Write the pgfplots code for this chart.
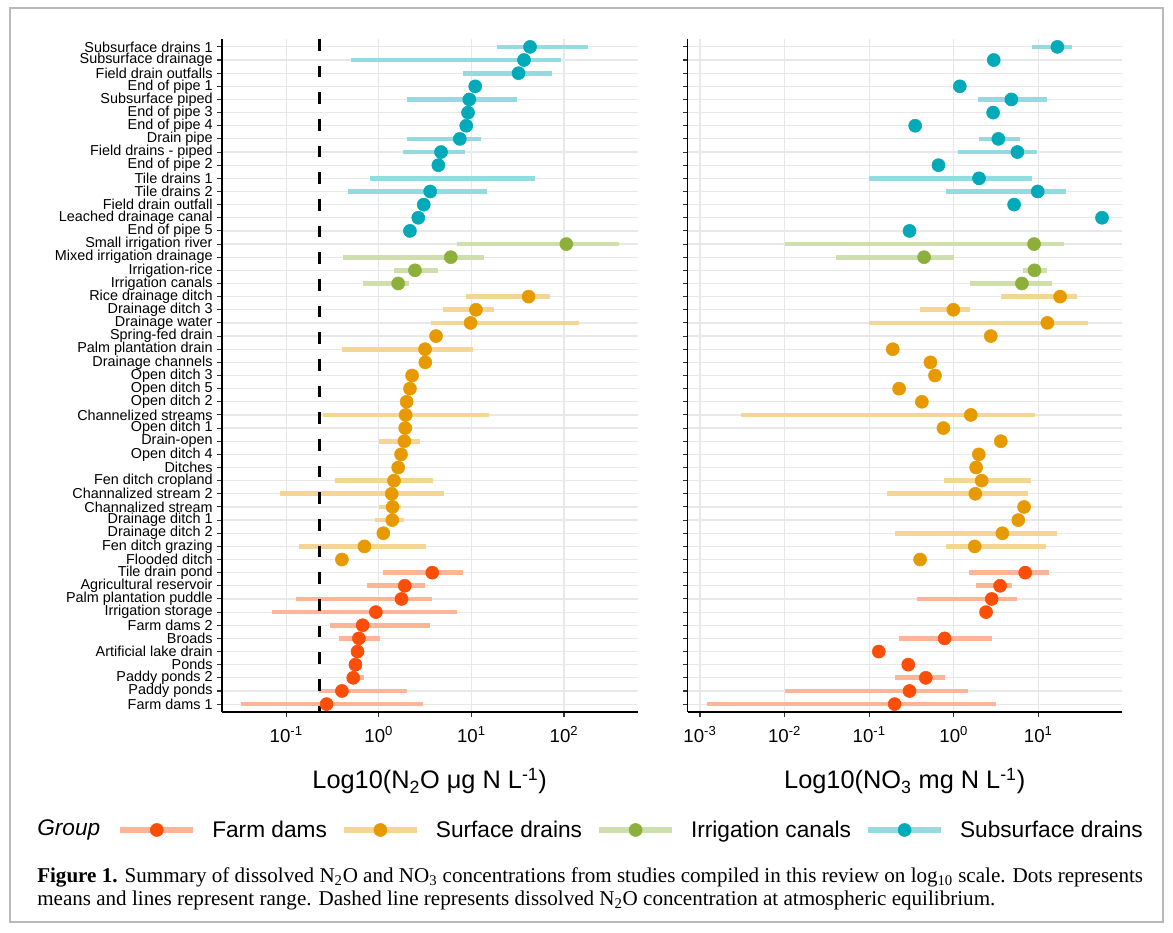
\documentclass[border=0pt]{standalone}
\usepackage{fontspec}
\setmainfont{Liberation Sans}
\newfontfamily\capfont{Liberation Serif}
\usepackage{pgfplots}
\pgfplotsset{compat=1.18}

\definecolor{fd}{HTML}{FC4E07}
\definecolor{sd}{HTML}{E69A00}
\definecolor{ic}{HTML}{8DB03B}
\definecolor{ss}{HTML}{00AAB8}
\colorlet{fdL}{fd!42!white}
\colorlet{sdL}{sd!42!white}
\colorlet{icL}{ic!42!white}
\colorlet{ssL}{ss!42!white}

\pgfplotsset{
  myrng/.style={line width=3.5pt, line cap=butt, forget plot},
  mydots/.style={only marks, mark=*, mark size=4.9pt, forget plot},
}

\begin{document}
\begin{tikzpicture}
\path (0pt,0pt) rectangle (879.75pt,699pt);
\draw[black!27, line width=1.2pt] (7.5pt,7.5pt) rectangle (872.25pt,693pt);

% ---------------- left panel: N2O ----------------
\begin{axis}[at={(166.35pt,165pt)}, anchor=south west,
  scale only axis, width=311.85pt, height=504.75pt,
  xmode=log, xminorticks=false,
  ymin=0.4, ymax=51.6, ytick={1,...,51},
  axis x line*=bottom, axis y line*=left,
  axis line style={black, line width=1.1pt},
  grid=major, major grid style={color=black!9, line width=0.9pt},
  tick align=outside, major tick length=3.4pt,
  tick style={black!80, line width=0.8pt},
  xticklabel style={font=\fontsize{14}{14}\selectfont, yshift=-4pt},
  yticklabel style={font=\fontsize{10.8}{11}\selectfont},
  xmin=0.02018, xmax=623.7,
  xtick={0.1,1,10,100},
  xticklabels={10\textsuperscript{-1},10\textsuperscript{0},10\textsuperscript{1},10\textsuperscript{2}},
  yticklabels={Farm dams 1,Paddy ponds,Paddy ponds 2,Ponds,Artificial lake drain,Broads,Farm dams 2,Irrigation storage,Palm plantation puddle,Agricultural reservoir,Tile drain pond,Flooded ditch,Fen ditch grazing,Drainage ditch 2,Drainage ditch 1,Channalized stream,Channalized stream 2,Fen ditch cropland,Ditches,Open ditch 4,Drain-open,Open ditch 1,Channelized streams,Open ditch 2,Open ditch 5,Open ditch 3,Drainage channels,Palm plantation drain,Spring-fed drain,Drainage water,Drainage ditch 3,Rice drainage ditch,Irrigation canals,Irrigation-rice,Mixed irrigation drainage,Small irrigation river,End of pipe 5,Leached drainage canal,Field drain outfall,Tile drains 2,Tile drains 1,End of pipe 2,Field drains - piped,Drain pipe,End of pipe 4,End of pipe 3,Subsurface piped,End of pipe 1,Field drain outfalls,Subsurface drainage,Subsurface drains 1},
  xlabel={Log10(N\textsubscript{2}O μg N L\textsuperscript{-1})},
  xlabel style={font=\fontsize{19}{20}\selectfont, at={(axis description cs:0.5,-0.1025)}, anchor=center},
  legend columns=4,
  legend style={at={(axis description cs:-0.2520,-0.1753)}, anchor=west,
    draw=none, fill=none, inner sep=0pt,
    font=\fontsize{17}{18}\selectfont,
    nodes={inner sep=0pt},
    /tikz/every odd column/.append style={column sep=12pt},
    /tikz/every even column/.append style={column sep=10.5pt}},
]
% ranges: subsurface drains
\addplot[myrng, ssL] coordinates {(19.1,51) (181,51)};
\addplot[myrng, ssL] coordinates {(0.507,50) (92,50)};
\addplot[myrng, ssL] coordinates {(8.1,49) (74.6,49)};
\addplot[myrng, ssL] coordinates {(2.02,47) (31.3,47)};
\addplot[myrng, ssL] coordinates {(2.02,44) (12.7,44)};
\addplot[myrng, ssL] coordinates {(1.84,43) (8.45,43)};
\addplot[myrng, ssL] coordinates {(0.81,41) (49,41)};
\addplot[myrng, ssL] coordinates {(0.46,40) (14.9,40)};
% irrigation canals
\addplot[myrng, icL] coordinates {(7.08,36) (394,36)};
\addplot[myrng, icL] coordinates {(0.41,35) (13.7,35)};
\addplot[myrng, icL] coordinates {(1.47,34) (4.33,34)};
\addplot[myrng, icL] coordinates {(0.67,33) (2.12,33)};
% surface drains
\addplot[myrng, sdL] coordinates {(8.8,32) (70,32)};
\addplot[myrng, sdL] coordinates {(4.96,31) (17.6,31)};
\addplot[myrng, sdL] coordinates {(3.7,30) (147,30)};
\addplot[myrng, sdL] coordinates {(0.4,28) (10.3,28)};
\addplot[myrng, sdL] coordinates {(0.251,23) (15.4,23)};
\addplot[myrng, sdL] coordinates {(1.0,21) (2.76,21)};
\addplot[myrng, sdL] coordinates {(0.34,18) (3.86,18)};
\addplot[myrng, sdL] coordinates {(0.0855,17) (5.07,17)};
\addplot[myrng, sdL] coordinates {(1.0,16) (1.72,16)};
\addplot[myrng, sdL] coordinates {(0.91,15) (1.89,15)};
\addplot[myrng, sdL] coordinates {(0.136,13) (3.26,13)};
% farm dams
\addplot[myrng, fdL] coordinates {(1.11,11) (8.2,11)};
\addplot[myrng, fdL] coordinates {(0.74,10) (3.13,10)};
\addplot[myrng, fdL] coordinates {(0.127,9) (3.78,9)};
\addplot[myrng, fdL] coordinates {(0.071,8) (7.0,8)};
\addplot[myrng, fdL] coordinates {(0.294,7) (3.59,7)};
\addplot[myrng, fdL] coordinates {(0.37,6) (1.03,6)};
\addplot[myrng, fdL] coordinates {(0.46,3) (0.69,3)};
\addplot[myrng, fdL] coordinates {(0.226,2) (2.02,2)};
\addplot[myrng, fdL] coordinates {(0.0326,1) (3.03,1)};
% means
\addplot[mydots, ss] coordinates {(43,51) (37,50) (32.3,49) (11,48) (9.5,47) (9.2,46) (8.8,45) (7.5,44) (4.7,43) (4.4,42) (3.59,40) (3.06,39) (2.67,38) (2.17,37)};
\addplot[mydots, ic] coordinates {(106,36) (5.99,35) (2.46,34) (1.62,33)};
\addplot[mydots, sd] coordinates {(41.5,32) (11.2,31) (9.8,30) (4.15,29) (3.16,28) (3.18,27) (2.29,26) (2.17,25) (2.0,24) (1.95,23) (1.93,22) (1.89,21) (1.74,20) (1.62,19) (1.46,18) (1.38,17) (1.41,16) (1.40,15) (1.12,14) (0.70,13) (0.40,12)};
\addplot[mydots, fd] coordinates {(3.78,11) (1.91,10) (1.76,9) (0.93,8) (0.67,7) (0.61,6) (0.59,5) (0.56,4) (0.53,3) (0.40,2) (0.273,1)};
% atmospheric equilibrium
\addplot[black, line width=2.4pt, dash pattern=on 8.75pt off 11.25pt, forget plot] coordinates {(0.231,51.6) (0.231,0.4)};
% legend
\addlegendimage{legend image code/.code={\draw[fdL, line width=4.5pt] (0pt,0pt) -- (54.75pt,0pt); \fill[fd] (27.4pt,0pt) circle (4.9pt);}}
\addlegendentry{Farm dams}
\addlegendimage{legend image code/.code={\draw[sdL, line width=4.5pt] (0pt,0pt) -- (54.75pt,0pt); \fill[sd] (27.4pt,0pt) circle (4.9pt);}}
\addlegendentry{Surface drains}
\addlegendimage{legend image code/.code={\draw[icL, line width=4.5pt] (0pt,0pt) -- (54.75pt,0pt); \fill[ic] (27.4pt,0pt) circle (4.9pt);}}
\addlegendentry{Irrigation canals}
\addlegendimage{legend image code/.code={\draw[ssL, line width=4.5pt] (0pt,0pt) -- (54.75pt,0pt); \fill[ss] (27.4pt,0pt) circle (4.9pt);}}
\addlegendentry{Subsurface drains}
\end{axis}

% ---------------- right panel: NO3 ----------------
\begin{axis}[at={(515.775pt,165pt)}, anchor=south west,
  scale only axis, width=325.5pt, height=504.75pt,
  xmode=log, xminorticks=false,
  ymin=0.4, ymax=51.6, ytick={1,...,51},
  axis x line*=bottom, axis y line*=left,
  axis line style={black, line width=1.1pt},
  grid=major, major grid style={color=black!9, line width=0.9pt},
  tick align=outside, major tick length=3.4pt,
  tick style={black!80, line width=0.8pt},
  xticklabel style={font=\fontsize{14}{14}\selectfont, yshift=-4pt},
  xmin=0.0007155, xmax=96.8,
  xtick={0.001,0.01,0.1,1,10},
  xticklabels={10\textsuperscript{-3},10\textsuperscript{-2},10\textsuperscript{-1},10\textsuperscript{0},10\textsuperscript{1}},
  yticklabels={},
  xlabel={Log10(NO\textsubscript{3} mg N L\textsuperscript{-1})},
  xlabel style={font=\fontsize{19}{20}\selectfont, at={(axis description cs:0.5,-0.1025)}, anchor=center},
]
\addplot[myrng, ssL] coordinates {(8.5,51) (25.3,51)};
\addplot[myrng, ssL] coordinates {(1.94,47) (12.5,47)};
\addplot[myrng, ssL] coordinates {(1.99,44) (6.14,44)};
\addplot[myrng, ssL] coordinates {(1.13,43) (9.6,43)};
\addplot[myrng, ssL] coordinates {(0.1,41) (8.5,41)};
\addplot[myrng, ssL] coordinates {(0.80,40) (21,40)};
\addplot[myrng, icL] coordinates {(0.01,36) (20,36)};
\addplot[myrng, icL] coordinates {(0.04,35) (1.0,35)};
\addplot[myrng, icL] coordinates {(6.5,34) (12.8,34)};
\addplot[myrng, icL] coordinates {(1.55,33) (14.7,33)};
\addplot[myrng, sdL] coordinates {(3.6,32) (28.7,32)};
\addplot[myrng, sdL] coordinates {(0.40,31) (1.57,31)};
\addplot[myrng, sdL] coordinates {(0.1,30) (38.7,30)};
\addplot[myrng, sdL] coordinates {(0.00303,23) (9.2,23)};
\addplot[myrng, sdL] coordinates {(0.77,18) (8.3,18)};
\addplot[myrng, sdL] coordinates {(0.161,17) (7.6,17)};
\addplot[myrng, sdL] coordinates {(0.2,14) (16.8,14)};
\addplot[myrng, sdL] coordinates {(0.81,13) (12.2,13)};
\addplot[myrng, fdL] coordinates {(1.52,11) (13.4,11)};
\addplot[myrng, fdL] coordinates {(1.84,10) (4.85,10)};
\addplot[myrng, fdL] coordinates {(0.366,9) (5.66,9)};
\addplot[myrng, fdL] coordinates {(0.226,6) (2.84,6)};
\addplot[myrng, fdL] coordinates {(0.2,3) (0.79,3)};
\addplot[myrng, fdL] coordinates {(0.01,2) (1.49,2)};
\addplot[myrng, fdL] coordinates {(0.00121,1) (3.17,1)};
\addplot[mydots, ss] coordinates {(16.8,51) (2.97,50) (1.18,48) (4.8,47) (2.92,46) (0.35,45) (3.37,44) (5.66,43) (0.66,42) (1.99,41) (9.84,40) (5.17,39) (56.6,38) (0.30,37)};
\addplot[mydots, ic] coordinates {(8.9,36) (0.446,35) (9.0,34) (6.4,33)};
\addplot[mydots, sd] coordinates {(18.1,32) (0.99,31) (12.8,30) (2.74,29) (0.19,28) (0.53,27) (0.60,26) (0.226,25) (0.42,24) (1.59,23) (0.755,22) (3.6,21) (1.98,20) (1.84,19) (2.14,18) (1.8,17) (6.78,16) (5.8,15) (3.76,14) (1.77,13) (0.40,12)};
\addplot[mydots, fd] coordinates {(7.0,11) (3.53,10) (2.81,9) (2.41,8) (0.78,6) (0.13,5) (0.29,4) (0.467,3) (0.30,2) (0.2,1)};
\end{axis}

\node[anchor=west, inner sep=0pt, font=\fontsize{17}{18}\selectfont\itshape] at (27.75pt,76.5pt) {Group};
\node[anchor=base west, inner sep=0pt, font=\capfont\fontsize{15.8}{17}\selectfont] at (27.75pt,37.5pt) {\textbf{Figure 1.} Summary of dissolved N\textsubscript{2}O and NO\textsubscript{3} concentrations from studies compiled in this review on log\textsubscript{10} scale. Dots represents};
\node[anchor=base west, inner sep=0pt, font=\capfont\fontsize{15.8}{17}\selectfont] at (27.75pt,20.25pt) {means and lines represent range. Dashed line represents dissolved N\textsubscript{2}O concentration at atmospheric equilibrium.};
\end{tikzpicture}
\end{document}
